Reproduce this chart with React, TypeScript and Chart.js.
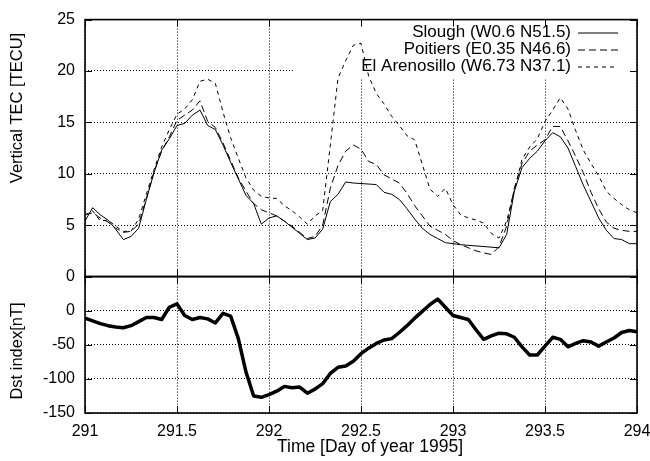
import { useEffect, useRef } from 'react';
import { Chart, registerables } from 'chart.js';

Chart.register(...registerables);

const FONT = "'Liberation Sans', Arial, Helvetica, sans-serif";

// hours since the start of day 291 (1995)
const START_DAY = 291;
const HOURS = [
  0, 1, 2, 3, 4, 5, 6, 7, 8, 9, 10, 11, 12, 13, 14, 15, 16, 17, 18, 19, 20, 21, 22, 23, 24,
  25, 26, 27, 28, 29, 30, 31, 32, 33, 34, 35, 36, 37, 38, 39, 40, 41, 42, 43, 44, 45, 46, 47, 48,
  49, 50, 51, 52, 53, 54, 55, 56, 57, 58, 59, 60, 61, 62, 63, 64, 65, 66, 67, 68, 69, 70, 71, 72,
];

const SLOUGH = [
  5.4, 6.7, 6.0, 5.5, 4.6, 3.6, 3.9, 4.7, 7.5, 10.1, 12.3, 13.4, 14.7, 14.9, 15.7, 16.2, 14.7, 14.3,
  12.8, 11.1, 9.5, 7.9, 7.1, 5.1, 5.7, 5.9, 5.4, 4.8, 4.2, 3.6, 3.75, 4.6, 7.3, 8.0, 9.2, 9.1, 9.05,
  9.0, 8.95, 8.2, 8.0, 7.5, 6.6, 5.6, 4.7, 4.1, 3.7, 3.3, 3.2, 3.1, null, null, null, null, 2.8, 4.1,
  8.3, 10.6, 11.5, 12.2, 13.2, 14.0, 13.6, 12.5, 10.7, 8.9, 7.3, 5.7, 4.5, 3.7, 3.6, 3.2, 3.2,
];

const POITIERS = [
  6.0, 6.2, 5.7, 5.3, 4.7, 4.3, 4.4, 5.1, 7.6, 10.2, 12.2, 13.6, 15.2, 15.7, 16.2, 17.1, 15.1, 14.5,
  13.0, 11.3, 9.6, 8.3, 7.1, 6.5, 6.2, 5.9, 5.4, 4.9, 4.3, 3.7, 3.9, 5.0, 8.6, 10.8, 12.2, 12.8, 12.4,
  11.2, 10.9, 9.9, 9.5, 9.1, 8.1, 6.9, 5.9, 4.9, 4.5, 4.1, 3.5, 3.1, 2.8, 2.5, 2.3, 2.15, 2.9, 4.9,
  8.6, 11.0, 12.2, 12.8, 13.3, 14.6, 14.6, 13.2, 11.7, 10.1, 8.2, 6.6, 5.3, 4.7, 4.5, 4.4, 4.4,
];

const ARENOSILLO = [
  6.0, 6.4, 5.4, 5.5, 4.9, 4.4, 4.4, 5.6, 8.0, 10.4, 12.6, 14.3, 15.8, 16.3, 17.2, 19.0, 19.2, 18.8,
  16.0, 13.5, 11.5, 9.6, 8.4, 7.8, 7.65, 7.6, 6.9, 6.4, 5.8, 5.1, 5.9, 6.4, 12.8, 19.3, 21.0, 22.5,
  22.7, 19.5, 17.8, 16.8, 15.6, 14.7, 13.7, 13.3, 10.9, 8.5, 7.8, 8.6, 7.0, 6.0, 5.7, 5.5, 5.2, 4.2,
  3.75, 5.4, 8.4, 11.4, 12.6, 13.4, 15.1, 16.2, 17.4, 16.3, 14.2, 12.3, 11.0, 9.8, 8.3, 7.6, 7.0, 6.5,
  6.2,
];

const DST = [
  -11, -15, -19, -22, -24, -25, -22, -16, -10, -10, -13, 5, 10, -7, -13, -10, -12, -18, -4, -8, -41,
  -90, -125, -127, -123, -118, -111, -113, -112, -121, -115, -107, -92, -83, -81, -74, -63, -55, -48,
  -43, -41, -32, -22, -11, -1, 9, 17, 5, -7, -10, -13, -28, -42, -37, -33, -34, -39, -53, -65, -65,
  -52, -39, -42, -53, -48, -44, -46, -52, -46, -40, -32, -29, -31,
];

const X_TICKS = [291, 291.5, 292, 292.5, 293, 293.5, 294];
const TEC_TICKS = [0, 5, 10, 15, 20, 25];
const DST_TICKS = [-150, -100, -50, 0];

const LEGEND_LABELS = ['Slough (W0.6 N51.5)', 'Poitiers (E0.35 N46.6)', 'El Arenosillo (W6.73 N37.1)'];
const LEGEND_DASHES = [[], [7, 4], [4, 4]];

const TEC_TITLE = 'Vertical TEC [TECU]';
const DST_TITLE = 'Dst index[nT]';
const X_TITLE = 'Time [Day of year 1995]';

const toPoints = (vals: (number | null)[]) =>
  HOURS.map((h, i) => ({ x: START_DAY + h / 24, y: vals[i] }));

export default function App() {
  const ref = useRef<HTMLCanvasElement | null>(null);

  useEffect(() => {
    if (!ref.current) return;

    const panelPlugin = {
      id: 'panels',
      beforeDatasetsDraw(chart: any) {
        const { ctx, chartArea } = chart;
        // legend background mask
        ctx.save();
        ctx.fillStyle = '#fff';
        ctx.fillRect(293, chartArea.top + 1, chartArea.right - 1 - 293, 58);
        ctx.restore();
      },
      afterDatasetsDraw(chart: any) {
        const { ctx, chartArea } = chart;
        const xs = chart.scales.x;
        const yt = chart.scales.yTec;
        const yd = chart.scales.yDst;
        const L = chartArea.left;
        const R = chartArea.right;
        ctx.save();
        // legend
        ctx.font = `17px ${FONT}`;
        ctx.fillStyle = '#000';
        ctx.textAlign = 'right';
        ctx.textBaseline = 'middle';
        LEGEND_LABELS.forEach((lab, i) => {
          const y = 32.5 + i * 17;
          ctx.fillText(lab, 571, y);
          ctx.beginPath();
          ctx.setLineDash(LEGEND_DASHES[i]);
          ctx.lineWidth = 1;
          ctx.strokeStyle = '#000';
          ctx.moveTo(578, y + 0.5);
          ctx.lineTo(618, y + 0.5);
          ctx.stroke();
        });
        ctx.setLineDash([]);

        // tick marks (inward)
        const TL = 7;
        ctx.lineWidth = 1;
        ctx.strokeStyle = '#000';
        const panels = [
          { top: yt.top, bottom: yt.bottom, scale: yt, ticks: TEC_TICKS },
          { top: yd.top, bottom: yd.bottom, scale: yd, ticks: DST_TICKS },
        ];
        ctx.beginPath();
        panels.forEach((p) => {
          X_TICKS.forEach((v) => {
            const px = Math.round(xs.getPixelForValue(v)) + 0.5;
            ctx.moveTo(px, p.top);
            ctx.lineTo(px, p.top + TL);
            ctx.moveTo(px, p.bottom);
            ctx.lineTo(px, p.bottom - TL);
          });
          p.ticks.forEach((v) => {
            const py = Math.round(p.scale.getPixelForValue(v)) + 0.5;
            ctx.moveTo(L, py);
            ctx.lineTo(L + TL, py);
            ctx.moveTo(R, py);
            ctx.lineTo(R - TL, py);
          });
        });
        ctx.stroke();

        // borders
        ctx.lineWidth = 1.6;
        panels.forEach((p) => {
          ctx.strokeRect(L, p.top, R - L, p.bottom - p.top);
        });

        // titles
        ctx.fillStyle = '#000';
        ctx.textAlign = 'center';
        ctx.textBaseline = 'middle';
        ctx.font = `16.5px ${FONT}`;
        ctx.save();
        ctx.translate(17, 108);
        ctx.rotate(-Math.PI / 2);
        ctx.fillText(TEC_TITLE, 0, 0);
        ctx.restore();
        ctx.save();
        ctx.translate(17, 351);
        ctx.rotate(-Math.PI / 2);
        ctx.fillText(DST_TITLE, 0, 0);
        ctx.restore();
        ctx.font = `17.5px ${FONT}`;
        ctx.fillText(X_TITLE, 370, 447);
        ctx.restore();
      },
    };

    const gridCommon = { color: '#000', lineWidth: 1, drawTicks: false };
    const borderCommon = { display: false, dash: [1, 2] };
    const tickFont = { family: FONT, size: 16 };
    const fmt = (v: any) => String(v);

    const chart = new Chart(ref.current, {
      type: 'line',
      data: {
        datasets: [
          {
            label: LEGEND_LABELS[0],
            data: toPoints(SLOUGH),
            yAxisID: 'yTec',
            borderColor: '#000',
            borderWidth: 1,
            pointRadius: 0,
            spanGaps: true,
            tension: 0,
          },
          {
            label: LEGEND_LABELS[1],
            data: toPoints(POITIERS),
            yAxisID: 'yTec',
            borderColor: '#000',
            borderWidth: 1,
            borderDash: [7, 4],
            pointRadius: 0,
            tension: 0,
          },
          {
            label: LEGEND_LABELS[2],
            data: toPoints(ARENOSILLO),
            yAxisID: 'yTec',
            borderColor: '#000',
            borderWidth: 1,
            borderDash: [4, 4],
            pointRadius: 0,
            tension: 0,
          },
          {
            label: 'Dst',
            data: toPoints(DST),
            yAxisID: 'yDst',
            borderColor: '#000',
            borderWidth: 3.5,
            borderJoinStyle: 'round',
            pointRadius: 0,
            tension: 0,
          },
        ],
      },
      options: {
        animation: false,
        responsive: false,
        devicePixelRatio: 1,
        layout: { padding: { top: 18, right: 13, left: 0, bottom: 0 } },
        plugins: { legend: { display: false }, tooltip: { enabled: false } },
        scales: {
          x: {
            type: 'linear',
            min: 291,
            max: 294,
            afterBuildTicks: (s: any) => {
              s.ticks = X_TICKS.map((v) => ({ value: v }));
            },
            afterFit: (s: any) => {
              s.height = 48;
              s.paddingRight = 0;
              s.paddingLeft = 0;
            },
            grid: gridCommon,
            border: borderCommon,
            ticks: { color: '#000', font: tickFont, padding: 9, maxRotation: 0, autoSkip: false, callback: fmt },
          },
          yDst: {
            type: 'linear',
            position: 'left',
            stack: 'panels',
            stackWeight: 137,
            min: -150,
            max: 50,
            afterBuildTicks: (s: any) => {
              s.ticks = DST_TICKS.map((v) => ({ value: v }));
            },
            afterFit: (s: any) => {
              s.width = 85;
            },
            grid: gridCommon,
            border: borderCommon,
            ticks: { color: '#000', font: tickFont, padding: 10, callback: fmt },
          },
          yTec: {
            type: 'linear',
            position: 'left',
            stack: 'panels',
            stackWeight: 258,
            min: 0,
            max: 25,
            afterBuildTicks: (s: any) => {
              s.ticks = TEC_TICKS.map((v) => ({ value: v }));
            },
            afterFit: (s: any) => {
              s.width = 85;
            },
            grid: gridCommon,
            border: borderCommon,
            ticks: { color: '#000', font: tickFont, padding: 10, callback: fmt },
          },
        },
      } as any,
      plugins: [panelPlugin],
    });

    return () => chart.destroy();
  }, []);

  return (
    <div style={{ position: 'absolute', left: 0, top: 0, width: 650, height: 461, background: '#fff' }}>
      <canvas ref={ref} width={650} height={461} style={{ display: 'block' }} />
    </div>
  );
}
